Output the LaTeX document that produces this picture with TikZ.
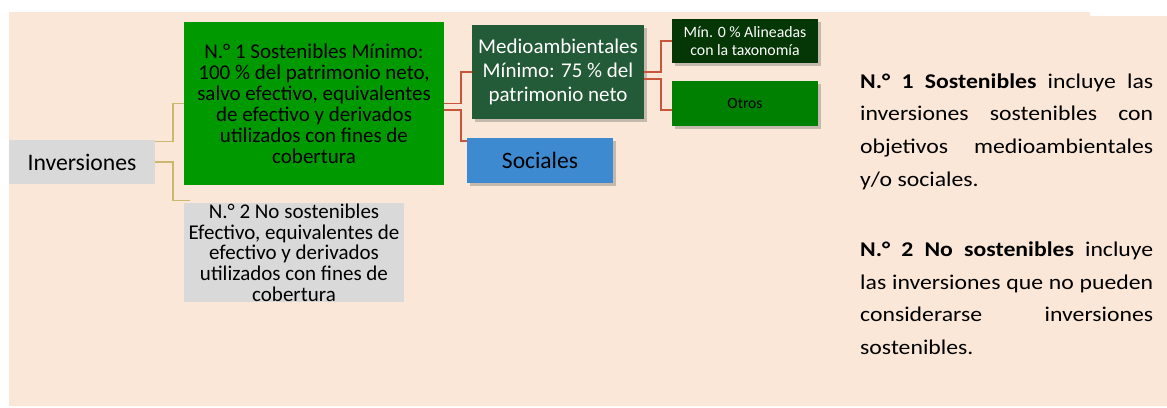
\documentclass[tikz,border=0pt]{standalone}
\usepackage{fontspec}
\setmainfont{Carlito}
\usetikzlibrary{shadows}
\definecolor{peach}{HTML}{FAE7D7}
\definecolor{gbox}{HTML}{009900}
\definecolor{mbox}{HTML}{235A38}
\definecolor{tbox}{HTML}{053605}
\definecolor{obox}{HTML}{008000}
\definecolor{sbox}{HTML}{3D8AD0}
\definecolor{grayb}{HTML}{D9D9D9}
\definecolor{redl}{HTML}{C9553A}
\definecolor{yell}{HTML}{CBB86E}
\begin{document}
\begin{tikzpicture}[x=1pt,y=-1pt,
  box/.style={anchor=center, inner sep=0pt, outer sep=0pt, align=center},
  shad/.style={drop shadow={shadow xshift=2.5pt, shadow yshift=-2.5pt, opacity=0.3, fill=black!70}},
  rd/.style={draw=redl, line width=1.7pt},
  yl/.style={draw=yell, line width=1.6pt},
  expl/.style={anchor=base west, inner sep=0pt}]
\useasboundingbox (0,0) rectangle (1167,407);
\fill[white] (0,0) rectangle (1167,407);
\fill[peach] (9,12) -- (1090,12) -- (1090,16) -- (1167,16) -- (1167,406) -- (9,406) -- cycle;

% nodes
\node[box, fill=grayb, minimum width=146pt, minimum height=44pt,
      font=\fontsize{23.7}{28}\selectfont] (inv) at (82,162) {Inversiones};
\node[box, fill=gbox, minimum width=260pt, minimum height=163pt,
      font=\fontsize{21}{21}\selectfont] (green) at (314,103.5)
  {N.° 1 Sostenibles Mínimo:\\100 \% del patrimonio neto,\\salvo efectivo, equivalentes\\de efectivo y derivados\\utilizados con fines de\\cobertura};
\node[box, fill=grayb, minimum width=220pt, minimum height=99pt] (n2) at (294,252.5) {};
\node[box, font=\fontsize{21}{20.7}\selectfont] (n2t) at (n2.center)
  {N.° 2 No sostenibles\\Efectivo, equivalentes de\\efectivo y derivados\\utilizados con fines de\\cobertura};
\node[box, shad, fill=mbox, text=white, minimum width=172pt, minimum height=94pt,
      font=\fontsize{21}{23.7}\selectfont] (medio) at (558,72)
  {Medioambientales\\Mínimo: 75 \% del\\patrimonio neto};
\node[box, shad, fill=sbox, minimum width=146pt, minimum height=45pt,
      font=\fontsize{23.5}{28}\selectfont] (soc) at (540,160.5) {Sociales};
\node[box, shad, fill=tbox, text=white, minimum width=146pt, minimum height=44pt,
      font=\fontsize{15.8}{17.7}\selectfont] (min) at (745,41)
  {Mín. 0 \% Alineadas\\con la taxonomía};
\node[box, shad, fill=obox, minimum width=146pt, minimum height=45pt,
      font=\fontsize{15.6}{18}\selectfont] (otros) at (745,103.5) {Otros};

\coordinate (n2end) at (190,200.3);

% connectors
\draw[yl] ([yshift=-1.3pt]inv.north east) -- ++(17.7,0) |- (green.west);
\draw[yl] (inv.east) -- ++(17.7,0) |- (n2end);
\draw[rd] (green.east) -- ++(16.7,0) |- (medio.west);
\draw[rd] ([yshift=-6.5pt]green.east) -- ++(16.7,0) |- ([yshift=-3pt]soc.north west);
\draw[rd] (medio.east) -- ++(16.7,0) |- (min.west);
\draw[rd] ([yshift=-6.7pt]medio.east) -- ++(16.7,0) |- ([yshift=-6.5pt]otros.west);

% explanatory text
\node[expl] (p1) at (860,88.3)
  {\scalebox{1.13}[1]{\parbox[t]{259.3pt}{\fontsize{21}{32.6}\selectfont
   \hyphenpenalty=10000 \exhyphenpenalty=10000 \tolerance=10000
   \textbf{N.° 1 Sostenibles} incluye las\linebreak inversiones sostenibles con\linebreak objetivos medioambientales\linebreak y/o sociales.}}};
\node[expl] (p2) at (860,256.7)
  {\scalebox{1.13}[1]{\parbox[t]{259.3pt}{\fontsize{21}{32.6}\selectfont
   \hyphenpenalty=10000 \exhyphenpenalty=10000 \tolerance=10000
   \textbf{N.° 2 No sostenibles} incluye\linebreak las inversiones que no pueden\linebreak considerarse inversiones\linebreak sostenibles.}}};
\end{tikzpicture}
\end{document}
